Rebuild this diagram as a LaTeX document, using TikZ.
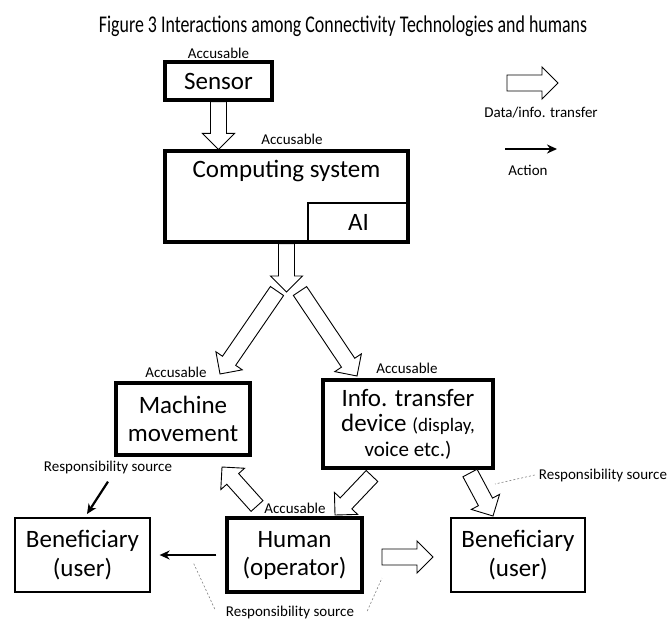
\documentclass[tikz,border=0pt]{standalone}
\usepackage{fontspec}
\setmainfont{Carlito}
\newfontfamily\condfont{Carlito}[FakeStretch=0.745]
\usetikzlibrary{arrows.meta,calc}
\newcommand{\bigfont}{\fontsize{25}{28}\selectfont}
\newcommand{\smallfont}{\fontsize{15}{18}\selectfont}
\tikzset{
  heavybox/.style={draw, line width=3.2pt, align=center, font=\bigfont, inner sep=0pt},
  plainbox/.style={draw, line width=1.3pt, align=center, font=\bigfont, inner sep=0pt},
  acc/.style={font=\smallfont, inner sep=0pt},
  xfer/.style={draw, line width=0.9pt, fill=white, line join=miter},
  act/.style={-{Stealth[length=10pt,width=9pt]}, line width=2.2pt},
  hint/.style={gray, line width=0.6pt, dash pattern=on 2pt off 2pt},
}
\newcommand{\xferarrow}[2]{%
  \draw[xfer] let \p1=($(#2)-(#1)$), \n1={atan2(\y1,\x1)}, \n2={veclen(\x1,\y1)} in
    [shift={(#1)}, rotate=\n1]
    (0pt,-8pt) -- (\n2-16pt,-8pt) -- (\n2-16pt,-16pt) -- (\n2,0pt)
    -- (\n2-16pt,16pt) -- (\n2-16pt,8pt) -- (0pt,8pt) -- cycle;}
\begin{document}
\begin{tikzpicture}[x=1pt,y=-1pt]
  \useasboundingbox (0,0) rectangle (668,621);
  \node[anchor=base] (title) at (343,32) {\condfont\fontsize{24}{28}\selectfont Figure 3 Interactions among Connectivity Technologies and humans};
  % sensor and computing system
  \node[heavybox, minimum width=107pt, minimum height=38pt] (sensor) at (218.5,81) {Sensor};
  \node[acc] (accSensor) at (218.5,53) {Accusable};
  \node[heavybox, minimum width=243pt, minimum height=91pt] (comp) at (286.5,196.5) {};
  \node[font=\bigfont] (compTxt) at (286.5,171) {Computing system};
  \node[plainbox, anchor=south east, minimum width=101pt, minimum height=40pt] (ai) at (comp.south east) {AI};
  \node[acc] (accComp) at (292,139) {Accusable};
  \coordinate (compIn) at (sensor.south |- comp.north);
  \xferarrow{sensor.south}{compIn}
  \coordinate (split) at (286.5,292);
  \xferarrow{comp.south}{split}
  \coordinate (splitL) at (277,291);
  \coordinate (machIn) at (220,374);
  \coordinate (splitR) at (300,291);
  \coordinate (infoIn) at (357,376);
  \xferarrow{splitL}{machIn}
  \xferarrow{splitR}{infoIn}
  % second row
  \node[heavybox, minimum width=134pt, minimum height=72pt] (mach) at (183,419) {Machine\\movement};
  \node[acc] (accMach) at (176,372) {Accusable};
  \node[heavybox, minimum width=170pt, minimum height=88pt, font=\fontsize{25}{25}\selectfont] (info) at (408,424)
    {Info. transfer\\device {\fontsize{19}{25}\selectfont(display,}\\{\fontsize{21}{25}\selectfont voice etc.)}};
  \node[acc] (accInfo) at (407,368) {Accusable};
  % bottom row
  \node[heavybox, minimum width=135pt, minimum height=74pt] (human) at (294.5,555) {Human\\(operator)};
  \node[acc] (accHuman) at (295,508) {Accusable};
  \node[plainbox, minimum width=135pt, minimum height=74pt, font=\fontsize{25}{29}\selectfont] (benL) at (82.5,555) {Beneficiary\\(user)};
  \node[plainbox, minimum width=134pt, minimum height=74pt, font=\fontsize{25}{29}\selectfont] (benR) at (518,555) {Beneficiary\\(user)};
  \coordinate (humOut) at (257,506);
  \coordinate (machBack) at (222,467);
  \xferarrow{humOut}{machBack}
  \coordinate (infoOutL) at (372,476);
  \coordinate (humIn) at (335,515);
  \xferarrow{infoOutL}{humIn}
  \coordinate (infoOutR) at (470,473);
  \coordinate (benRIn) at (493,516);
  \xferarrow{infoOutR}{benRIn}
  \coordinate (humOutR) at (382,557);
  \coordinate (benRSide) at (433,557);
  \xferarrow{humOutR}{benRSide}
  \draw[act] ($(human.west)+(-9,0)$) -- ($(benL.east)+(9,0)$);
  % responsibility sources
  \node[acc] (respL) at (108,467) {Responsibility source};
  \coordinate (benLIn) at (87,514);
  \draw[act] ($(respL.south)+(0,8)$) -- (benLIn);
  \node[acc] (respR) at (603,475) {Responsibility source};
  \coordinate (hintR) at (495,484);
  \draw[hint] ($(respR.west)+(-4,0)$) -- (hintR);
  \node[acc] (respB) at (290,612) {Responsibility source};
  \coordinate (hintBL) at (193,562);
  \coordinate (hintBR) at (382,578);
  \draw[hint] ($(respB.west)+(-11,-3)$) -- (hintBL);
  \draw[hint] ($(respB.east)+(13,-1)$) -- (hintBR);
  % key
  \coordinate (keyA) at (507,83);
  \coordinate (keyB) at (558,83);
  \xferarrow{keyA}{keyB}
  \node[acc] (keyXfer) at (541,113) {Data/info. transfer};
  \coordinate (keyC) at (505,149);
  \coordinate (keyD) at (557,149);
  \draw[act] (keyC) -- (keyD);
  \node[acc] (keyAct) at (528,170) {Action};
\end{tikzpicture}
\end{document}
